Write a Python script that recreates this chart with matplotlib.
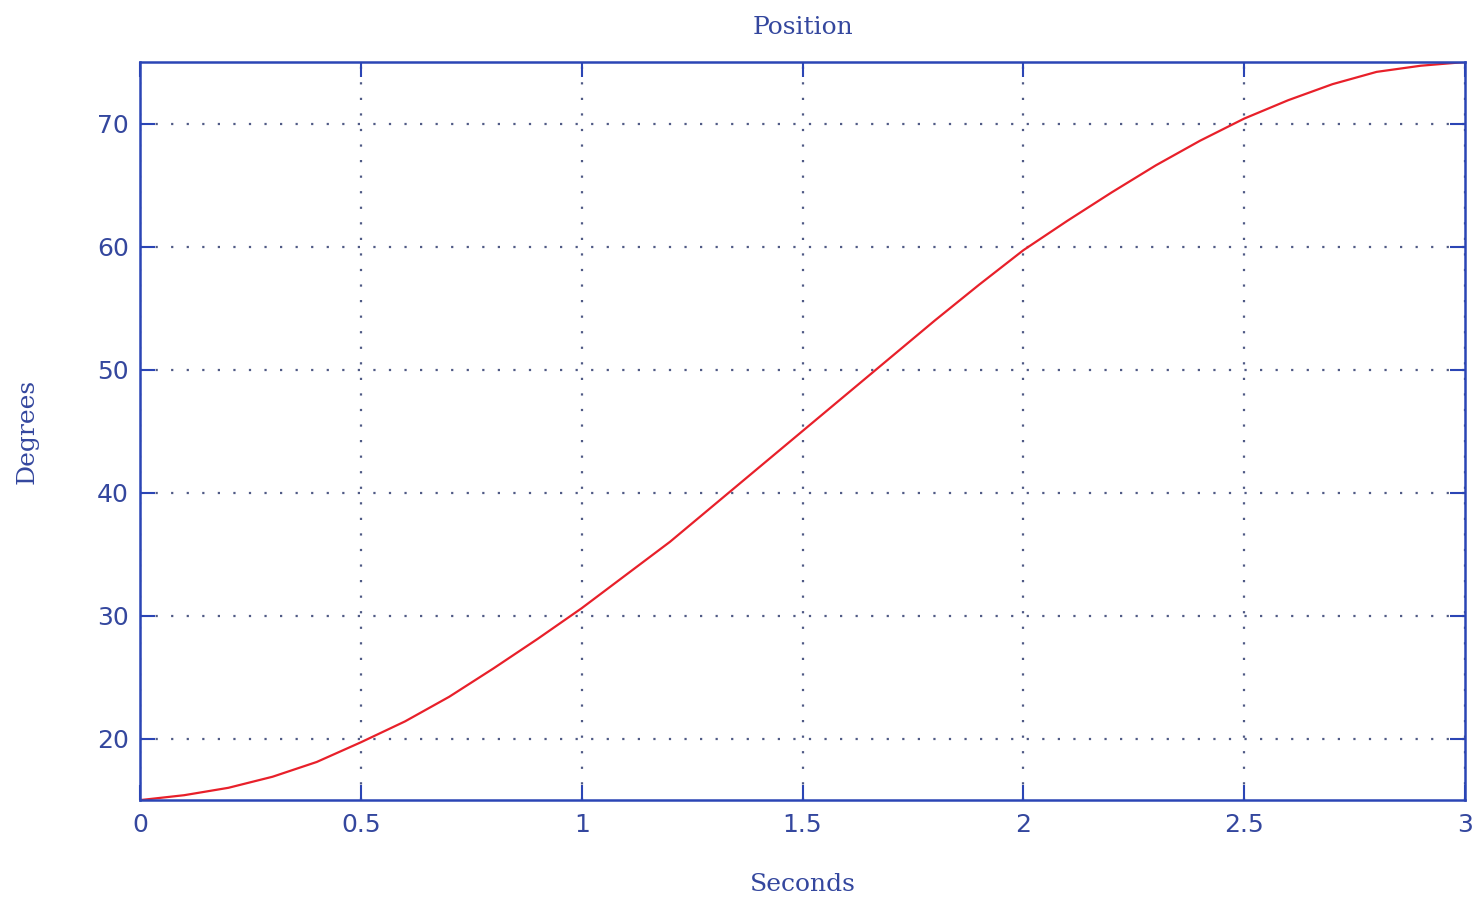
import numpy as np
import matplotlib
matplotlib.use("Agg")
import matplotlib.pyplot as plt

# values
t = [0.0, 0.1, 0.2, 0.3, 0.4, 0.5, 0.6, 0.7, 0.8, 0.9, 1.0,
     1.1, 1.2, 1.3, 1.4, 1.5, 1.6, 1.7, 1.8, 1.9, 2.0,
     2.1, 2.2, 2.3, 2.4, 2.5, 2.6, 2.7, 2.8, 2.9, 3.0]
deg = [15.0, 15.4, 16.0, 16.9, 18.1, 19.7, 21.4, 23.4, 25.7, 28.1, 30.6,
       33.3, 36.0, 39.0, 42.0, 45.0, 48.0, 51.0, 54.0, 56.9, 59.7,
       62.1, 64.4, 66.6, 68.6, 70.4, 71.9, 73.2, 74.2, 74.7, 75.0]
xticks = [0, 0.5, 1, 1.5, 2, 2.5, 3]
xtick_labels = ["0", "0.5", "1", "1.5", "2", "2.5", "3"]
yticks = [20, 30, 40, 50, 60, 70]

blue = "#2b45b5"
text_blue = "#34479e"

fig = plt.figure(figsize=(14.79, 8.99), dpi=100)
ax = fig.add_axes([0.0947, 0.110, 0.8958, 0.821])

ax.plot(t, deg, color="#e8202a", linewidth=1.6)

ax.set_xlim(0, 3)
ax.set_ylim(15, 75)
ax.set_xticks(xticks)
ax.set_xticklabels(xtick_labels)
ax.set_yticks(yticks)

ax.grid(True, linestyle=(0, (1, 6)), color="#4f5a85", linewidth=1.6)
for s in ax.spines.values():
    s.set_color(blue)
    s.set_linewidth(1.8)
ax.tick_params(direction="in", length=11, width=1.5, color=blue,
               labelcolor=text_blue, labelsize=18, top=True, right=True,
               pad=9)
ax.tick_params(axis="y", pad=8)

ax.set_title("Position", fontfamily="DejaVu Serif", fontsize=18,
             color=text_blue, pad=20)
ax.set_xlabel("Seconds", fontfamily="DejaVu Serif", fontsize=18,
              color=text_blue, labelpad=26)
ax.set_ylabel("Degrees", fontfamily="DejaVu Serif", fontsize=18,
              color=text_blue, labelpad=42)

fig.savefig("out.png", dpi=100)
